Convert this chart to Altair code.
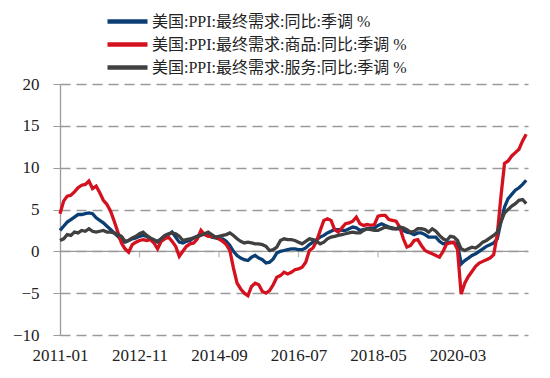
import altair as alt
import pandas as pd

FONT = "Liberation Serif, Noto Sans CJK SC"

series_names = [
    "美国:PPI:最终需求:同比:季调 %",
    "美国:PPI:最终需求:商品:同比:季调 %",
    "美国:PPI:最终需求:服务:同比:季调 %",
]
series_colors = ["#0b3f74", "#d4111e", "#404040"]

start_year = 2011
n_months = 130
tick_months = [0, 22, 44, 66, 88, 110]
y_ticks = [-10, -5, 0, 5, 10, 15, 20]

total = [
    2.5, 3.0, 3.5, 3.8, 4.1, 4.4, 4.4, 4.5, 4.6, 4.5,
    4.0, 3.7, 3.4, 3.0, 2.6, 2.2, 1.8, 1.3, 1.1, 1.3,
    1.5, 1.6, 1.8, 1.9, 1.8, 1.5, 1.3, 1.2, 1.5, 1.8,
    2.0, 2.3, 1.7, 1.1, 1.0, 1.2, 1.3, 1.6, 1.8, 2.0,
    2.1, 1.9, 1.7, 1.6, 1.5, 1.5, 1.2, 0.7, 0.0, -0.5,
    -0.8, -1.0, -1.1, -0.7, -0.5, -0.8, -1.0, -1.4, -1.3, -0.9,
    -0.2, 0.0, 0.1, 0.2, 0.3, 0.3, 0.2, 0.2, 0.4, 0.8,
    1.1, 1.4, 1.7, 1.9, 2.2, 2.4, 2.6, 2.6, 2.5, 2.5,
    2.7, 2.9, 2.8, 2.5, 2.6, 2.7, 2.7, 2.8, 3.1, 3.3,
    3.1, 2.9, 2.8, 2.7, 2.7, 2.5, 2.3, 2.2, 2.0, 2.2,
    2.2, 2.0, 1.7, 1.7, 1.7, 1.2, 0.9, 1.0, 1.1, 1.0,
    0.9, -1.5, -1.1, -0.8, -0.5, -0.3, 0.0, 0.3, 0.6, 0.8,
    1.0, 1.5, 3.5, 5.3, 6.3, 6.8, 7.3, 7.6, 8.0, 8.5,
]

goods = [
    4.5, 6.0, 6.6, 6.7, 7.1, 7.6, 7.9, 8.0, 8.4, 7.5,
    7.8, 7.0, 6.1, 5.6, 4.8, 3.6, 2.3, 1.0, 0.3, -0.1,
    0.8, 1.1, 1.3, 1.4, 1.3, 1.4, 1.0, 0.3, 1.2, 1.5,
    1.7, 1.2, 0.6, -0.6, 0.0, 0.6, 0.9, 1.0, 1.5, 2.5,
    2.0, 1.8, 1.8, 1.7, 1.5, 1.2, 0.8, 0.1, -2.0, -3.8,
    -4.5, -5.0, -5.3, -4.2, -3.8, -4.0, -4.8, -5.0, -4.7, -4.0,
    -3.1, -2.9, -2.5, -2.7, -2.5, -2.2, -2.1, -1.9, -1.3, 0.1,
    0.4, 1.2, 2.5, 3.7, 3.9, 3.7, 2.6, 2.3, 2.8, 3.3,
    3.4, 3.6, 4.1, 3.3, 3.1, 3.2, 3.1, 3.2, 4.2, 4.3,
    4.3, 3.8, 3.7, 3.6, 2.9, 1.5, 0.5, 0.7, 1.3, 1.4,
    0.7, 0.1, -0.1, -0.3, -0.5, -0.7, 0.0, 0.9, 1.0, 1.1,
    0.2, -5.1, -3.8, -3.0, -2.4, -1.8, -1.4, -1.2, -1.0, -0.8,
    -0.4, 2.0, 6.5, 10.5, 10.8, 11.4, 11.8, 12.2, 13.2, 14.0,
]

services = [
    1.3, 1.5, 2.0, 1.9, 2.3, 2.2, 2.5, 2.4, 2.7, 2.4,
    2.3, 2.4, 2.5, 2.3, 2.3, 2.2, 2.0, 1.8, 1.2, 1.3,
    1.6, 1.8, 2.1, 2.3, 1.9, 1.6, 1.4, 1.1, 1.5, 1.9,
    2.1, 2.2, 2.1, 1.8, 1.3, 1.4, 1.5, 1.6, 1.8, 1.9,
    2.1, 2.3, 2.0, 1.7, 1.8, 1.9, 2.0, 2.2, 1.9, 1.5,
    1.2, 1.0, 1.1, 1.0, 0.9, 0.9, 0.8, 0.6, 0.1, 0.2,
    0.5, 1.3, 1.5, 1.4, 1.4, 1.3, 1.1, 0.9, 1.2, 1.5,
    1.4, 1.2, 0.9, 1.1, 1.5, 1.7, 1.8, 1.9, 2.0, 2.1,
    2.2, 2.3, 2.2, 2.2, 2.5, 2.7, 2.6, 2.5, 2.5, 2.7,
    2.9, 2.8, 2.7, 2.7, 2.9, 2.8, 2.6, 2.3, 2.4, 2.7,
    2.7, 2.6, 2.3, 2.7, 2.4, 1.9, 1.5, 1.3, 1.8, 1.7,
    1.3, 0.3, 0.1, 0.3, 0.5, 0.4, 0.7, 1.1, 1.3, 1.6,
    1.9, 2.3, 3.5, 4.6, 5.0, 5.4, 5.7, 6.1, 6.2, 5.7,
]

rows = []
for name, vals in zip(series_names, [total, goods, services]):
    for i, v in enumerate(vals):
        rows.append({"idx": i, "series": name, "value": v})
df = pd.DataFrame(rows)

ticks_df = pd.DataFrame({"idx": tick_months[1:]})

label_expr = "timeFormat(datetime(2011, datum.value, 1), '%Y-%m')"

x_scale = alt.Scale(domain=[0, 129.5], nice=False, zero=False)
y_scale = alt.Scale(domain=[-10, 20], nice=False)

x_axis = alt.Axis(
    values=tick_months, labelExpr=label_expr, domain=False, ticks=False,
    grid=False, labelFont=FONT, labelFontSize=17, labelColor="#222222",
    labelPadding=12, title=None, labelFlush=False,
)
y_axis = alt.Axis(
    values=y_ticks, grid=True, gridDash=[10, 6], gridColor="#9a9a9a",
    gridWidth=1.3, domainColor="#9a9a9a", domainWidth=1.3, tickColor="#9a9a9a",
    tickSize=7, labelFont=FONT, labelFontSize=17, labelColor="#222222",
    labelPadding=14, title=None,
)

lines = alt.Chart(df).mark_line(strokeWidth=3.3).encode(
    x=alt.X("idx:Q", scale=x_scale, axis=x_axis),
    y=alt.Y("value:Q", scale=y_scale, axis=y_axis),
    color=alt.Color(
        "series:N",
        scale=alt.Scale(domain=series_names, range=series_colors),
        sort=series_names,
        legend=alt.Legend(
            title=None, orient="none", legendX=55, legendY=-75,
            symbolType="M-2,0H2", symbolSize=400, symbolStrokeWidth=4.5,
            labelFont=FONT, labelFontSize=16, labelColor="#222222",
            labelLimit=400, rowPadding=1, labelOffset=12, padding=0,
        ),
    ),
    order=alt.Order("series_order:Q"),
).transform_calculate(
    series_order="indexof(" + str(series_names).replace("'", '"') + ", datum.series)"
)

zero = alt.Chart(pd.DataFrame({"value": [0]})).mark_rule(
    color="#9a9a9a", strokeWidth=1.3
).encode(y=alt.Y("value:Q", scale=y_scale, axis=y_axis))

tick_marks = alt.Chart(ticks_df).mark_tick(
    orient="vertical", size=6, thickness=1.3, color="#9a9a9a", yOffset=3
).encode(
    x=alt.X("idx:Q", scale=x_scale, axis=x_axis),
    y=alt.Y("zero:Q", scale=y_scale, axis=y_axis),
).transform_calculate(zero="0")

chart = alt.layer(zero, tick_marks, lines).properties(
    width=468, height=251,
    autosize=alt.AutoSizeParams(type="none"),
    padding={"left": 52, "top": 76, "right": 14, "bottom": 35},
    background="white",
).configure_view(stroke=None)

chart.save("out.html", embed_options={"renderer": "svg", "actions": False})
